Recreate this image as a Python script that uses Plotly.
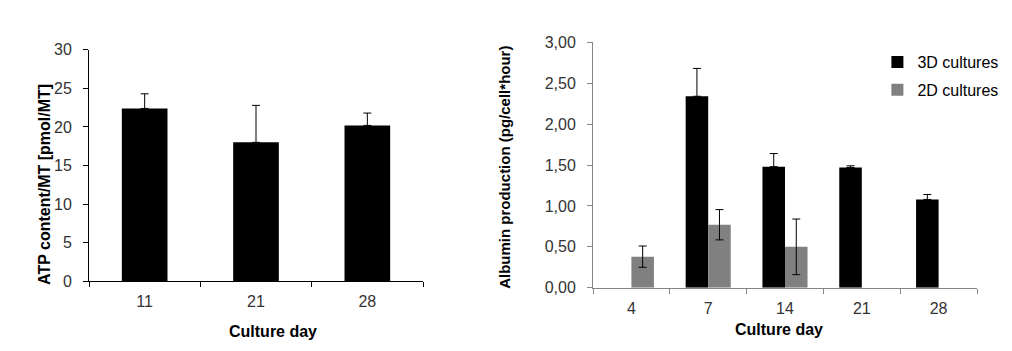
import plotly.graph_objects as go

# Left chart: ATP content
atp_days = ["11", "21", "28"]
atp_values = [22.4, 18.0, 20.2]
atp_err = [1.9, 4.8, 1.6]

# Right chart: Albumin production
alb_days = ["4", "7", "14", "21", "28"]
alb_3d = [None, 2.34, 1.48, 1.47, 1.08]
alb_3d_err = [None, 0.34, 0.16, 0.02, 0.06]
alb_2d = [0.38, 0.77, 0.50, None, None]
alb_2d_err = [0.13, 0.185, 0.34, None, None]

atp_yticks = [0, 5, 10, 15, 20, 25, 30]
alb_yticks = [0, 0.5, 1.0, 1.5, 2.0, 2.5, 3.0]

FONT = "Liberation Sans, Arial, sans-serif"
W, H = 1012, 351

fig = go.Figure()

fig.add_trace(go.Bar(
    x=atp_days, y=atp_values, width=0.41,
    marker=dict(color="#000000", line=dict(width=0)),
    error_y=dict(type="data", symmetric=False, array=atp_err,
                 arrayminus=[0] * len(atp_err),
                 color="#000000", thickness=1, width=4),
    showlegend=False, xaxis="x", yaxis="y",
))

fig.add_trace(go.Bar(
    x=alb_days, y=alb_3d, name="3D cultures",
    marker=dict(color="#000000", line=dict(width=0)),
    error_y=dict(type="data", symmetric=False, array=alb_3d_err,
                 arrayminus=[0 if v is not None else None for v in alb_3d_err],
                 color="#000000", thickness=1, width=4),
    legendgroup="a", xaxis="x2", yaxis="y2",
))
fig.add_trace(go.Bar(
    x=alb_days, y=alb_2d, name="2D cultures",
    marker=dict(color="#808080", line=dict(width=0)),
    error_y=dict(type="data", symmetric=True, array=alb_2d_err,
                 color="#000000", thickness=1, width=4),
    legendgroup="b", xaxis="x2", yaxis="y2",
))

axis_common = dict(showgrid=False, zeroline=False, showline=True, linewidth=1,
                   ticks="outside", ticklen=5, tickwidth=1,
                   tickfont=dict(family=FONT, size=16, color="#333333"))

fig.update_layout(
    width=W, height=H, margin=dict(l=0, r=0, t=0, b=0),
    paper_bgcolor="white", plot_bgcolor="white",
    barmode="group", bargap=0.413, bargroupgap=0,
    separators=",.",
    font=dict(family=FONT, size=16, color="#000000"),
    xaxis=dict(domain=[89 / W, 423 / W], anchor="y", type="category",
               range=[-0.5, 2.5], tickson="boundaries", linecolor="#000000",
               tickcolor="#000000", ticklabelstandoff=6, **axis_common),
    yaxis=dict(domain=[1 - 287 / H, 1 - 44 / H], anchor="x", range=[0, 30],
               tickvals=atp_yticks, linecolor="#000000", tickcolor="#000000",
               ticklabelstandoff=8, **axis_common),
    xaxis2=dict(domain=[593 / W, 977 / W], anchor="y2", type="category",
                range=[-0.5, 4.5], tickson="boundaries", linecolor="#868686",
                tickcolor="#868686", ticklabelstandoff=6, **axis_common),
    yaxis2=dict(domain=[1 - 294 / H, 1 - 36 / H], anchor="x2", range=[0, 3],
                tickvals=alb_yticks, tickformat=".2f", linecolor="#868686",
                tickcolor="#868686", ticklabelstandoff=8, **axis_common),
    legend=dict(x=0.867, y=1 - 39 / H, xanchor="left", yanchor="top",
                traceorder="grouped", tracegroupgap=4,
                font=dict(family=FONT, size=16, color="#000000"),
                bgcolor="rgba(0,0,0,0)"),
    showlegend=True,
)

annots = [
    dict(text="<b>ATP content/MT [pmol/MT]</b>", x=45 / W, y=1 - 186 / H,
         textangle=-90, font=dict(size=16)),
    dict(text="<b>Albumin production (pg/cell*hour)</b>", x=505 / W, y=1 - 168 / H,
         textangle=-90, font=dict(size=15)),
    dict(text="<b>Culture day</b>", x=273 / W, y=1 - 340 / H, font=dict(size=16)),
    dict(text="<b>Culture day</b>", x=779 / W, y=1 - 338 / H, font=dict(size=16)),
]
for a in annots:
    fig.add_annotation(xref="paper", yref="paper", xanchor="center",
                       yanchor="middle", showarrow=False, **a)

fig.write_html("out.html")
